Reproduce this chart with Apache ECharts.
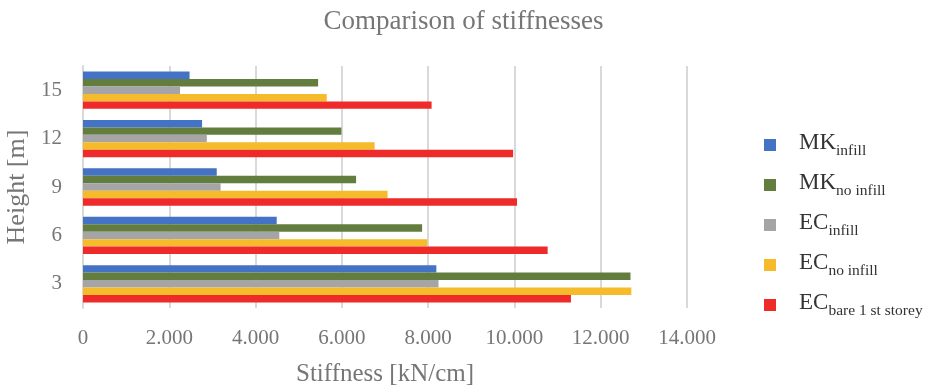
<!DOCTYPE html>
<html>
<head>
<meta charset="utf-8">
<script src="https://cdn.jsdelivr.net/npm/echarts@6/dist/echarts.min.js"></script>
<style>
  html, body { margin: 0; padding: 0; background: #fff; }
  #chart { width: 927px; height: 388px; }
</style>
</head>
<body>
<div id="chart"></div>
<script>
// Storey heights [m]
const heights = ['3', '6', '9', '12', '15'];

// Stiffness per storey [kN/cm]
const mkInfill        = [8190, 4490, 3100, 2760, 2470];
const mkNoInfill      = [12690, 7860, 6330, 5990, 5450];
const ecInfill        = [8240, 4550, 3190, 2870, 2250];
const ecNoInfill      = [12710, 7980, 7060, 6760, 5650];
const ecBareFirst     = [11310, 10770, 10060, 9970, 8080];

// Legend labels: main part + subscript
const seriesDefs = [
  { key: 'MKinfill',   main: 'MK', sub: 'infill',             data: mkInfill,    color: '#4472C4' },
  { key: 'MKnoinfill', main: 'MK', sub: 'no infill',          data: mkNoInfill,  color: '#637D3F' },
  { key: 'ECinfill',   main: 'EC', sub: 'infill',             data: ecInfill,    color: '#A5A5A7' },
  { key: 'ECnoinfill', main: 'EC', sub: 'no infill',          data: ecNoInfill,  color: '#F5BB2A' },
  { key: 'ECbare',     main: 'EC', sub: 'bare 1 st storey',   data: ecBareFirst, color: '#EE2A2A' }
];

const serif = '"Liberation Serif", "Times New Roman", serif';
const labelMap = {};
seriesDefs.forEach(s => { labelMap[s.key] = s; });

const chart = echarts.init(document.getElementById('chart'), null, { renderer: 'canvas' });

chart.setOption({
  animation: false,
  backgroundColor: '#ffffff',
  title: {
    text: 'Comparison of stiffnesses',
    left: 'center',
    top: 3,
    textStyle: { fontFamily: serif, fontSize: 27, fontWeight: 'normal', color: '#767676' }
  },
  legend: {
    orient: 'vertical',
    left: 759,
    top: 126,
    itemWidth: 12,
    itemHeight: 12,
    itemGap: 12,
    icon: 'rect',
    data: seriesDefs.map(s => s.key),
    formatter: name => '{m|' + labelMap[name].main + '}{s|' + labelMap[name].sub + '}',
    textStyle: {
      fontFamily: serif,
      color: '#333333',
      rich: {
        m: { fontFamily: serif, fontSize: 23, color: '#333333', lineHeight: 28, verticalAlign: 'top', padding: [0, 0, 0, 18] },
        s: { fontFamily: serif, fontSize: 15.5, color: '#333333', lineHeight: 15, verticalAlign: 'bottom' }
      }
    }
  },
  grid: { left: 83, right: 240, top: 66, bottom: 80, outerBoundsMode: 'none' },
  xAxis: {
    type: 'value',
    min: 0,
    max: 14000,
    interval: 2000,
    name: 'Stiffness [kN/cm]',
    nameLocation: 'middle',
    nameGap: 54,
    nameTextStyle: { fontFamily: serif, fontSize: 25, color: '#767676' },
    axisLine: { show: false },
    axisTick: { show: false },
    axisLabel: {
      fontFamily: serif, fontSize: 21, color: '#767676', margin: 20,
      formatter: v => v === 0 ? '0' : (v / 1000).toFixed(0) + '.000'
    },
    splitLine: { show: true, lineStyle: { color: '#D9D9D9', width: 2 } }
  },
  yAxis: {
    type: 'category',
    data: heights,
    name: 'Height [m]',
    nameLocation: 'middle',
    nameGap: 47,
    nameRotate: 90,
    nameTextStyle: { fontFamily: serif, fontSize: 26, color: '#767676' },
    axisLine: { show: true, lineStyle: { color: '#D9D9D9', width: 2 } },
    axisTick: { show: false },
    axisLabel: { fontFamily: serif, fontSize: 21, color: '#767676', margin: 21 }
  },
  series: seriesDefs.map(s => ({
    name: s.key,
    type: 'bar',
    data: s.data,
    barGap: '0%',
    barCategoryGap: '23%',
    itemStyle: { color: s.color }
  }))
});
</script>
</body>
</html>
